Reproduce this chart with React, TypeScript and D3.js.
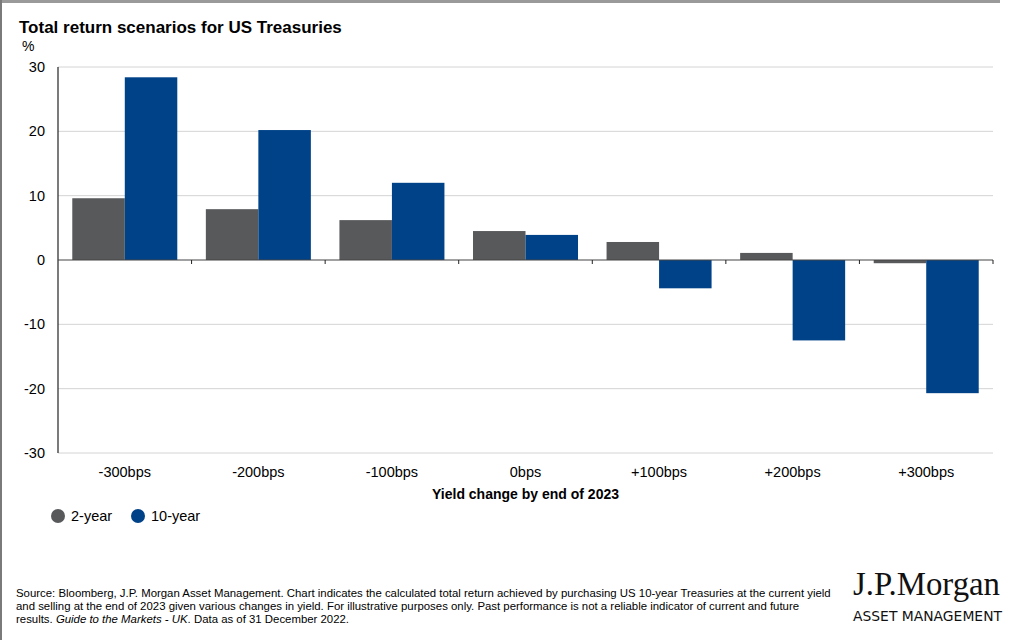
import React from "react";
import * as d3 from "d3";

const categories = ["-300bps", "-200bps", "-100bps", "0bps", "+100bps", "+200bps", "+300bps"];
const seriesNames = ["2-year", "10-year"];
const twoYear = [9.6, 7.9, 6.2, 4.5, 2.8, 1.1, -0.5];
const tenYear = [28.4, 20.2, 12.0, 3.9, -4.4, -12.5, -20.7];
const yTicks = [30, 20, 10, 0, -10, -20, -30];
const colors = ["#58595b", "#004288"];

const W = 1024;
const H = 640;
const M = { left: 58, right: 993, top: 67, bottom: 453 };

export default function App() {
  const x = d3.scaleBand<string>().domain(categories).range([M.left, M.right]).paddingInner(0).paddingOuter(0);
  const x1 = d3.scaleBand<string>().domain(seriesNames).range([0, x.bandwidth()]).paddingOuter(0.272).paddingInner(0);
  const y = d3.scaleLinear().domain([-30, 30]).range([M.bottom, M.top]);
  const series = [twoYear, tenYear];
  const font = "Arial, 'Liberation Sans', Helvetica, sans-serif";
  const narrow = "'Liberation Sans Narrow', 'Arial Narrow', Arial, sans-serif";

  return (
    <svg width={W} height={H} style={{ position: "absolute", left: 0, top: 0, background: "#fff" }} fontFamily={font}>
      <rect x={0} y={0} width={W} height={H} fill="#fff" />
      <rect x={0} y={0} width={1000} height={3} fill="#9a9a9a" />
      <rect x={0} y={0} width={2} height={H} fill="#7a7a7a" />

      <text x={19} y={33} fontSize={17} fontWeight="bold" fill="#000">Total return scenarios for US Treasuries</text>
      <text x={22} y={51} fontSize={14} fill="#000">%</text>

      {yTicks.map((t) => (
        <g key={t}>
          {t !== 0 && (
            <line x1={M.left} x2={M.right} y1={y(t)} y2={y(t)} stroke="#d4d4d4" strokeWidth={1} />
          )}
          <text x={45} y={y(t)} dy="0.35em" textAnchor="end" fontSize={14.5} fill="#000">{t}</text>
        </g>
      ))}

      {categories.map((c, i) => (
        <g key={c} transform={`translate(${x(c)},0)`}>
          {series.map((s, j) => {
            const v = s[i];
            const y0 = y(0);
            const yv = y(v);
            return (
              <rect
                key={j}
                x={x1(seriesNames[j])}
                y={Math.min(y0, yv)}
                width={x1.bandwidth()}
                height={Math.abs(yv - y0)}
                fill={colors[j]}
              />
            );
          })}
        </g>
      ))}

      <line x1={M.left} x2={M.left} y1={M.top} y2={M.bottom} stroke="#222" strokeWidth={1.2} />
      <line x1={M.left} x2={M.right} y1={y(0)} y2={y(0)} stroke="#444" strokeWidth={1.2} />
      {categories.map((c) => (
        <line key={c} x1={(x(c) as number) + x.bandwidth()} x2={(x(c) as number) + x.bandwidth()} y1={y(0)} y2={y(0) + 4} stroke="#222" strokeWidth={1} />
      ))}

      {categories.map((c) => (
        <text key={c} x={(x(c) as number) + x.bandwidth() / 2} y={472} dy="0.35em" textAnchor="middle" fontSize={14.5} fill="#000">{c}</text>
      ))}
      <text x={(M.left + M.right) / 2} y={494} dy="0.35em" textAnchor="middle" fontSize={14} fontWeight="bold" fill="#000">Yield change by end of 2023</text>

      {seriesNames.map((n, j) => (
        <g key={n} transform={`translate(${j === 0 ? 58 : 138},516)`}>
          <circle cx={0} cy={0} r={7} fill={colors[j]} />
          <text x={13} y={0} dy="0.35em" fontSize={14.5} fill="#000">{n}</text>
        </g>
      ))}

      <g fontFamily={narrow} fontSize={11.4} fill="#000">
        <text x={16} y={597}>Source: Bloomberg, J.P. Morgan Asset Management. Chart indicates the calculated total return achieved by purchasing US 10-year Treasuries at the current yield</text>
        <text x={16} y={610}>and selling at the end of 2023 given various changes in yield. For illustrative purposes only. Past performance is not a reliable indicator of current and future</text>
        <text x={16} y={623}>results. <tspan fontStyle="italic">Guide to the Markets - UK</tspan>. Data as of 31 December 2022.</text>
      </g>

      <text x={853} y={595} fontSize={34} fontFamily="'Liberation Serif', 'DejaVu Serif', serif" fill="#111" textLength={147} lengthAdjust="spacingAndGlyphs">J.P.Morgan</text>
      <text x={853} y={621} fontSize={14} fontFamily="'DejaVu Sans', 'Noto Sans', sans-serif" fill="#111" textLength={149} lengthAdjust="spacingAndGlyphs">ASSET MANAGEMENT</text>
    </svg>
  );
}
